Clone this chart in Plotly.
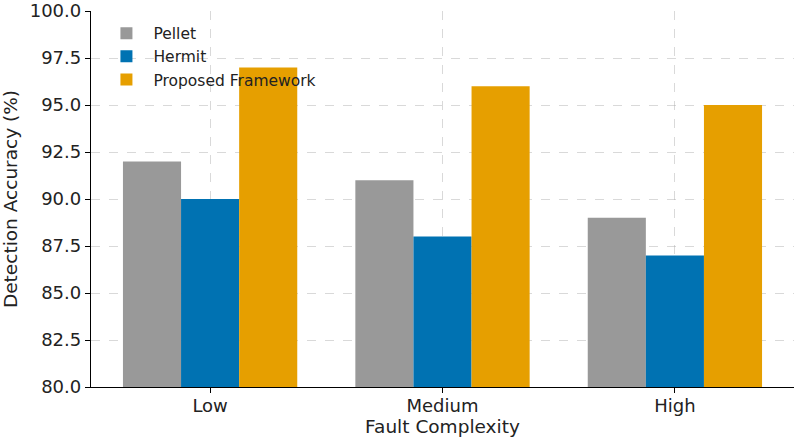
import plotly.graph_objects as go

categories = ["Low", "Medium", "High"]
pellet = [92, 91, 89]
hermit = [90, 88, 87]
proposed = [97, 96, 95]
series_names = ["Pellet", "Hermit", "Proposed Framework"]
colors = ["#999999", "#0072B2", "#E69F00"]

fig = go.Figure()
for i, (name, vals, c) in enumerate(zip(series_names, [pellet, hermit, proposed], colors)):
    fig.add_trace(go.Bar(x=categories, y=vals, name=name, marker_color=c,
                         marker_line_width=0, legendgroup=f"g{i}"))

font = "DejaVu Sans, Verdana, sans-serif"
fig.update_layout(
    width=795, height=441,
    margin=dict(l=91, r=1, t=11, b=54),
    paper_bgcolor="white", plot_bgcolor="white",
    barmode="group", bargap=0.25, bargroupgap=0,
    font=dict(family=font, size=16, color="#222222"),
    legend=dict(x=0.012, y=0.985, xanchor="left", yanchor="top",
                bgcolor="rgba(0,0,0,0)", font=dict(size=15.5, color="#222222"),
                itemwidth=44, tracegroupgap=0),
    showlegend=True,
)
fig.update_xaxes(
    range=[-0.5125, 2.5125],
    title=dict(text="Fault Complexity", standoff=4, font=dict(size=18.5)),
    showline=True, linecolor="black", linewidth=1.3,
    ticks="outside", ticklen=5, tickcolor="black",
    showgrid=True, gridcolor="rgba(170,170,170,0.45)", griddash="dash", gridwidth=1,
    layer="above traces", tickfont=dict(size=18), ticklabelstandoff=-3,
)
fig.update_yaxes(
    range=[80, 100.001], dtick=2.5, tick0=80, tickformat=".1f",
    title=dict(text="Detection Accuracy (%)", standoff=14, font=dict(size=18.5)),
    showline=True, linecolor="black", linewidth=1.3,
    ticks="outside", ticklen=5, tickcolor="black",
    showgrid=True, gridcolor="rgba(170,170,170,0.45)", griddash="dash", gridwidth=1,
    layer="above traces", zeroline=False, tickfont=dict(size=18),
)
fig.write_html("out.html")
